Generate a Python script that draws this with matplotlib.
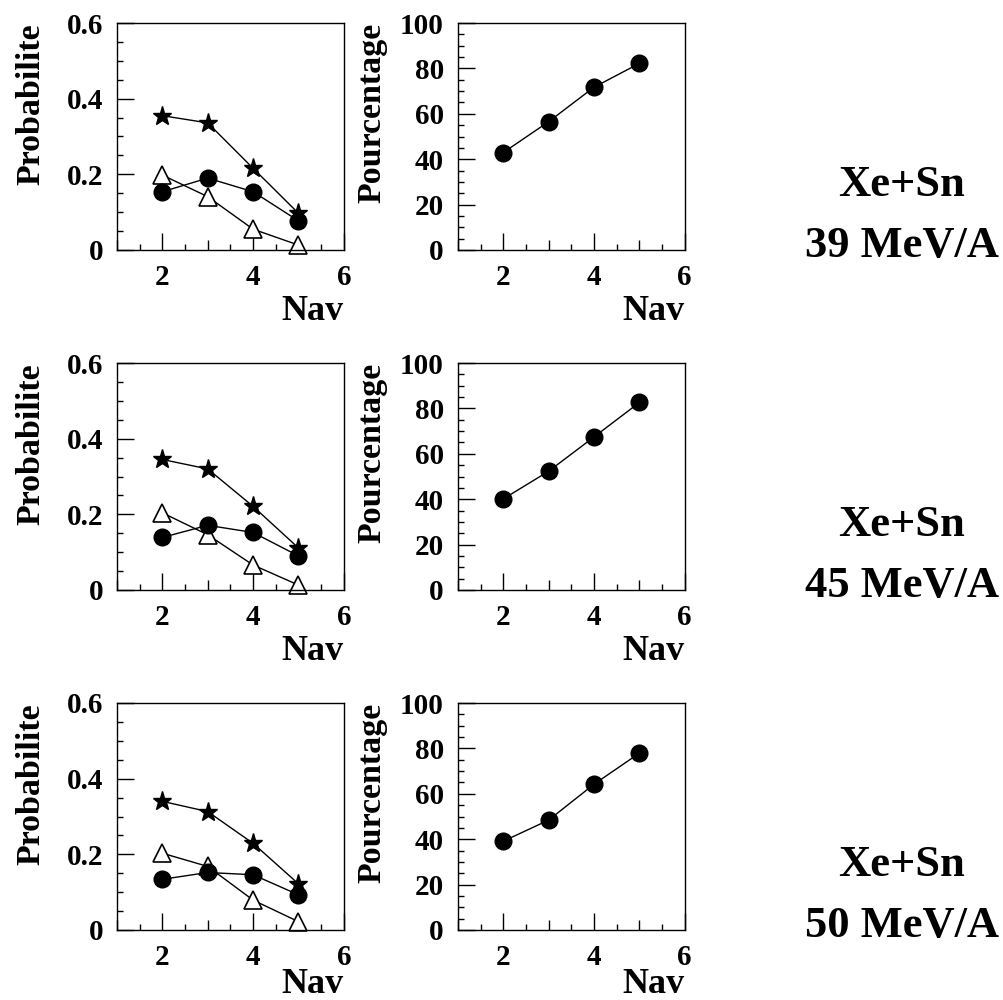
import numpy as np
import matplotlib.pyplot as plt
from matplotlib.ticker import MultipleLocator

plt.rcParams['font.family'] = ['Liberation Serif', 'DejaVu Serif']
plt.rcParams['font.weight'] = 'bold'

nav = [2, 3, 4, 5]
energies = ['39 MeV/A', '45 MeV/A', '50 MeV/A']

# probabilities (stars, full circles, open triangles) per energy
prob_star = [[0.355, 0.336, 0.216, 0.097],
             [0.345, 0.320, 0.221, 0.111],
             [0.340, 0.313, 0.229, 0.122]]
prob_circle = [[0.154, 0.190, 0.154, 0.077],
               [0.139, 0.171, 0.152, 0.090],
               [0.134, 0.152, 0.146, 0.093]]
prob_triangle = [[0.198, 0.141, 0.055, 0.013],
                 [0.204, 0.146, 0.066, 0.013],
                 [0.203, 0.168, 0.079, 0.022]]
# percentages
pourcentage = [[42.9, 56.5, 71.7, 82.2],
               [40.1, 52.3, 67.4, 82.6],
               [39.1, 48.4, 64.2, 77.9]]

fig = plt.figure(figsize=(10.04, 10), dpi=100)

row_bottoms = [0.75, 0.41, 0.07]
nav_label_y = [-0.27, -0.27, -0.24]   # last row sits against the page edge
w, h = 0.226, 0.227


def style_axes(ax, ymax, ymajor, yminor, yfmt, ylabel, label_y):
    ax.set_xlim(1, 6)
    ax.set_ylim(0, ymax)
    ax.xaxis.set_major_locator(MultipleLocator(1))
    ax.xaxis.set_minor_locator(MultipleLocator(0.5))
    ax.xaxis.set_major_formatter(plt.FuncFormatter(
        lambda v, p: f'{v:.0f}' if round(v) % 2 == 0 else ''))
    ax.yaxis.set_major_locator(MultipleLocator(ymajor))
    ax.yaxis.set_minor_locator(MultipleLocator(yminor))
    ax.tick_params(which='both', direction='in', top=False, right=False,
                   labelsize=21, width=1)
    ax.tick_params(which='major', length=12, pad=10)
    ax.tick_params(which='minor', length=4.5)
    ax.yaxis.set_major_formatter(yfmt)
    # odd Nav values get a medium tick
    for t, loc in zip(ax.xaxis.get_major_ticks(), ax.xaxis.get_majorticklocs()):
        if round(loc) % 2 == 1:
            t.tick1line.set_markersize(7)
    for lab in ax.get_xticklabels() + ax.get_yticklabels():
        lab.set_fontweight('bold')
    for s in ax.spines.values():
        s.set_linewidth(1)
    ax.set_xlabel('Nav', fontsize=26, fontweight='bold', loc='right')
    ax.xaxis.set_label_coords(1.0, label_y)
    ax.xaxis.label.set_va('center')
    ax.set_ylabel(ylabel, fontsize=24.5, fontweight='bold', loc='top')
    ax.yaxis.set_label_coords(-0.31, 1.0)


for i in range(3):
    b = row_bottoms[i]
    ax1 = fig.add_axes([0.1165, b, w, h])
    ax1.plot(nav, prob_star[i], color='black', lw=1, marker='*', ms=14,
             zorder=3, clip_on=False)
    ax1.plot(nav, prob_circle[i], color='black', lw=1, marker='o', ms=12,
             zorder=3, clip_on=False)
    ax1.plot(nav, prob_triangle[i], color='black', lw=1, marker='^', ms=13,
             mfc='white', mec='black', mew=1.2, zorder=2, clip_on=False)
    style_axes(ax1, 0.6, 0.2, 0.05,
               plt.FuncFormatter(lambda v, p: '0' if abs(v) < 1e-9 else f'{v:.1f}'),
               'Probabilite', nav_label_y[i])

    ax2 = fig.add_axes([0.456, b, w, h])
    ax2.plot(nav, pourcentage[i], color='black', lw=1, marker='o', ms=12)
    style_axes(ax2, 100, 20, 5, plt.FuncFormatter(lambda v, p: f'{v:.0f}'),
               'Pourcentage', nav_label_y[i])

    fig.text(0.898, b + 0.065, 'Xe+Sn', fontsize=32, fontweight='bold',
             ha='center', va='center')
    fig.text(0.898, b + 0.004, energies[i], fontsize=32, fontweight='bold',
             ha='center', va='center')

fig.savefig('out.png', dpi=100)
